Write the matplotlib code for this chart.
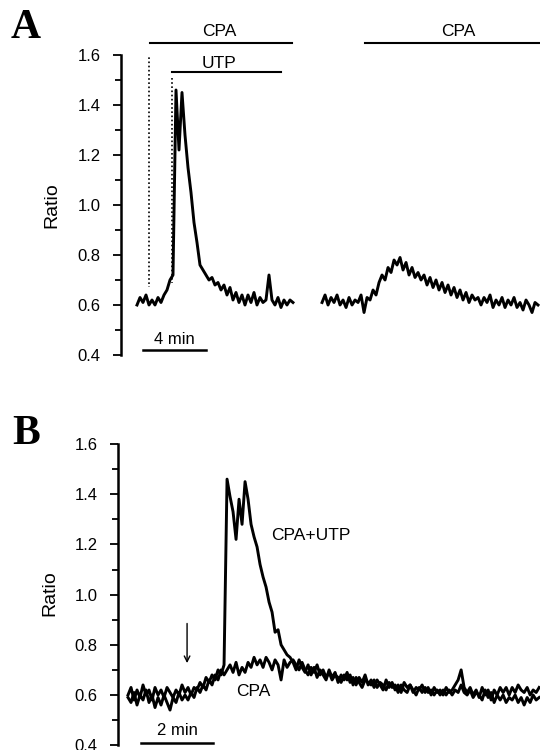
import numpy as np
import matplotlib
matplotlib.use("Agg")
import matplotlib.pyplot as plt

plt.rcParams['font.family'] = ['Liberation Sans', 'DejaVu Sans']

# Panel A, first trace (CPA then UTP), sampled every 0.19 min from t = 0
ratio_a1 = [0.60, 0.63, 0.61, 0.64, 0.60, 0.62, 0.60, 0.63, 0.61, 0.64,
            0.66, 0.70, 0.72, 1.46, 1.22, 1.45, 1.28, 1.15, 1.05, 0.93,
            0.85, 0.76, 0.74, 0.72, 0.70, 0.71, 0.68, 0.69, 0.66, 0.68,
            0.64, 0.67, 0.62, 0.65, 0.61, 0.64, 0.60, 0.64, 0.61, 0.65,
            0.60, 0.63, 0.61, 0.62, 0.72, 0.62, 0.60, 0.63, 0.59, 0.62,
            0.60, 0.62, 0.61]
# Panel A, second trace (CPA alone), starts at t = 11.75 min
ratio_a2 = [0.61, 0.64, 0.60, 0.63, 0.61, 0.64, 0.60, 0.62, 0.59, 0.63,
            0.60, 0.62, 0.61, 0.64, 0.57, 0.63, 0.62, 0.66, 0.64, 0.69,
            0.72, 0.70, 0.75, 0.73, 0.78, 0.76, 0.79, 0.74, 0.77, 0.72,
            0.75, 0.71, 0.73, 0.70, 0.72, 0.68, 0.71, 0.67, 0.70, 0.66,
            0.69, 0.65, 0.68, 0.64, 0.67, 0.63, 0.66, 0.62, 0.65, 0.61,
            0.64, 0.62, 0.63, 0.60, 0.63, 0.61, 0.64, 0.59, 0.62, 0.60,
            0.63, 0.59, 0.62, 0.60, 0.63, 0.59, 0.61, 0.58, 0.62, 0.60,
            0.57, 0.61, 0.60]

# Panel B, sampled every 1/12 min from t = 0
ratio_b_utp = [0.60, 0.63, 0.58, 0.62, 0.59, 0.64, 0.60, 0.62, 0.58, 0.63,
               0.60, 0.62, 0.59, 0.63, 0.61, 0.59, 0.62, 0.60, 0.64, 0.61,
               0.63, 0.60, 0.63, 0.62, 0.65, 0.63, 0.67, 0.65, 0.68, 0.66,
               0.70, 0.68, 0.72, 1.46, 1.39, 1.33, 1.22, 1.38, 1.28, 1.45,
               1.38, 1.28, 1.23, 1.19, 1.12, 1.07, 1.03, 0.97, 0.93, 0.85,
               0.86, 0.80, 0.78, 0.76, 0.75,
               0.73, 0.70, 0.74, 0.71, 0.69, 0.72, 0.68, 0.71, 0.67, 0.70,
               0.68, 0.66, 0.70, 0.67, 0.69, 0.65, 0.68, 0.66, 0.69, 0.65,
               0.67, 0.64, 0.67, 0.65, 0.68, 0.64, 0.66, 0.63, 0.66, 0.64,
               0.62, 0.66, 0.63, 0.65, 0.62, 0.64, 0.61, 0.65, 0.63, 0.64,
               0.61, 0.63, 0.62, 0.64, 0.61, 0.63, 0.60, 0.63, 0.61, 0.62,
               0.60, 0.63, 0.61, 0.62, 0.64, 0.66, 0.70, 0.63, 0.61, 0.63,
               0.60, 0.62, 0.59, 0.63, 0.60, 0.62, 0.58, 0.62, 0.60, 0.63,
               0.61, 0.63, 0.60, 0.63, 0.61, 0.64, 0.62, 0.61, 0.63, 0.60,
               0.62, 0.61, 0.63]
ratio_b_cpa = [0.59, 0.57, 0.61, 0.56, 0.60, 0.58, 0.62, 0.57, 0.60, 0.55,
               0.59, 0.56, 0.60, 0.57, 0.54, 0.59, 0.57, 0.61, 0.58, 0.60,
               0.58, 0.61, 0.59, 0.63, 0.61, 0.64, 0.62, 0.66, 0.64, 0.68,
               0.66, 0.70, 0.68, 0.70, 0.72, 0.69, 0.73, 0.68, 0.71, 0.69,
               0.73, 0.71, 0.75, 0.72, 0.74, 0.71, 0.75, 0.73, 0.70, 0.74,
               0.72, 0.66, 0.74, 0.71, 0.73,
               0.74, 0.72, 0.70, 0.73, 0.70, 0.68, 0.71, 0.69, 0.72, 0.68,
               0.70, 0.67, 0.69, 0.66, 0.68, 0.67, 0.65, 0.68, 0.66, 0.68,
               0.64, 0.67, 0.65, 0.63, 0.66, 0.65, 0.64, 0.66, 0.63, 0.65,
               0.64, 0.62, 0.65, 0.63, 0.64, 0.61, 0.64, 0.62, 0.61, 0.64,
               0.62, 0.60, 0.63, 0.61, 0.63, 0.61, 0.62, 0.60, 0.62, 0.60,
               0.62, 0.60, 0.62, 0.60, 0.62, 0.61, 0.64, 0.61, 0.60, 0.62,
               0.59, 0.61, 0.60, 0.58, 0.62, 0.59, 0.61, 0.57, 0.60, 0.58,
               0.60, 0.57, 0.59, 0.58, 0.60, 0.57, 0.59, 0.56, 0.59, 0.57,
               0.60, 0.58, 0.59]

yticks = [0.4, 0.6, 0.8, 1.0, 1.2, 1.4, 1.6]
ytick_labels = ['0.4', '0.6', '0.8', '1.0', '1.2', '1.4', '1.6']

dt_a = 3 / 15.75
dt_b = 3 / 36.0
t_a1 = 0.0 + dt_a * np.arange(len(ratio_a1))
t_a2 = 11.75 + dt_a * np.arange(len(ratio_a2))
t_b_utp = dt_b * np.arange(len(ratio_b_utp))
t_b_cpa = dt_b * np.arange(len(ratio_b_cpa))

fig = plt.figure(figsize=(5.4, 7.5), dpi=100)
ax_a = fig.add_axes([121 / 540, 1 - 355 / 750, 419 / 540, 300 / 750])
ax_b = fig.add_axes([118 / 540, 1 - 745.2 / 750, 422 / 540, 301.2 / 750])


def style_axis(ax):
    for s in ['top', 'right', 'bottom']:
        ax.spines[s].set_visible(False)
    ax.spines['left'].set_linewidth(1.8)
    ax.set_ylim(0.4, 1.6)
    ax.set_yticks(yticks)
    ax.set_yticklabels(ytick_labels)
    ax.set_yticks(np.arange(0.5, 1.6, 0.2), minor=True)
    ax.tick_params(axis='y', which='major', direction='out', length=5.5,
                   width=1.3, labelsize=12, pad=9)
    ax.tick_params(axis='y', which='minor', direction='out', length=4,
                   width=1.3)
    ax.set_xticks([])
    ax.patch.set_visible(False)


style_axis(ax_a)
style_axis(ax_b)

trace_lw = 2.1

# panel A
ax_a.set_xlim(-1.016, 25.59)
ax_a.plot(t_a1, ratio_a1, color='black', lw=trace_lw)
ax_a.plot(t_a2, ratio_a2, color='black', lw=trace_lw)
ax_a.plot([0.83, 9.84], [1.648, 1.648], color='black', lw=1.5, clip_on=False)
ax_a.text(5.2, 1.692, 'CPA', ha='center', va='center', fontsize=12.5)
ax_a.plot([0.78, 0.78], [1.625, 0.672], color='black', lw=1.2, ls=(0, (1, 1.5)))
ax_a.plot([2.22, 9.14], [1.532, 1.532], color='black', lw=1.5)
ax_a.text(5.2, 1.568, 'UTP', ha='center', va='center', fontsize=12.5)
ax_a.plot([2.2, 2.2], [1.508, 0.688], color='black', lw=1.2, ls=(0, (1, 1.5)))
ax_a.plot([14.48, 25.59], [1.648, 1.648], color='black', lw=1.5, clip_on=False)
ax_a.text(20.38, 1.692, 'CPA', ha='center', va='center', fontsize=12.5)
ax_a.plot([0.38, 4.38], [0.42, 0.42], color='black', lw=1.8, clip_on=False)
ax_a.text(2.38, 0.464, '4 min', ha='center', va='center', fontsize=12)

# panel B
ax_b.set_xlim(-0.278, 11.44)
ax_b.plot(t_b_utp, ratio_b_utp, color='black', lw=trace_lw)
ax_b.plot(t_b_cpa, ratio_b_cpa, color='black', lw=trace_lw)
ax_b.annotate('', xy=(1.64, 0.716), xytext=(1.64, 0.896),
              arrowprops=dict(arrowstyle='->', lw=1.0, color='black'))
ax_b.text(5.08, 1.236, 'CPA+UTP', ha='center', va='center', fontsize=12.5)
ax_b.text(3.47, 0.612, 'CPA', ha='center', va='center', fontsize=12.5)
ax_b.plot([0.36, 2.36], [0.41, 0.41], color='black', lw=1.8, clip_on=False)
ax_b.text(1.36, 0.458, '2 min', ha='center', va='center', fontsize=12)

fig.text(52 / 540, 1 - 205 / 750, 'Ratio', rotation=90, ha='center',
         va='center', fontsize=14)
fig.text(50 / 540, 1 - 593 / 750, 'Ratio', rotation=90, ha='center',
         va='center', fontsize=14)
fig.text(26 / 540, 1 - 28 / 750, 'A', ha='center', va='center', fontsize=30,
         fontweight='bold', family=['Liberation Serif', 'DejaVu Serif'])
fig.text(26 / 540, 1 - 434 / 750, 'B', ha='center', va='center', fontsize=30,
         fontweight='bold', family=['Liberation Serif', 'DejaVu Serif'])

fig.savefig('out.png', dpi=100)
